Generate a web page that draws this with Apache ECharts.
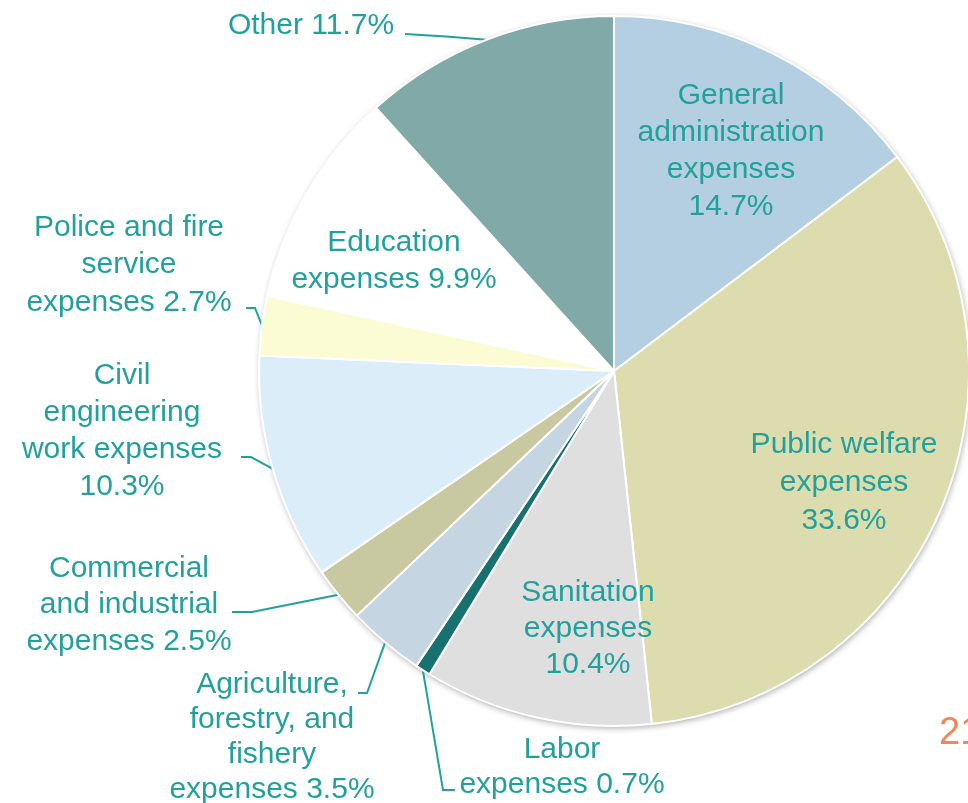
<!DOCTYPE html>
<html>
<head>
<meta charset="utf-8">
<script src="https://cdn.jsdelivr.net/npm/echarts@6/dist/echarts.min.js"></script>
<style>
html,body{margin:0;padding:0;background:#ffffff;}
#chart{width:968px;height:803px;}
</style>
</head>
<body>
<div id="chart"></div>
<script>
// ---- data ----
const categories = [
  'General administration expenses',
  'Public welfare expenses',
  'Sanitation expenses',
  'Labor expenses',
  'Agriculture, forestry, and fishery expenses',
  'Commercial and industrial expenses',
  'Civil engineering work expenses',
  'Police and fire service expenses',
  'Education expenses',
  'Other'
];
const shares = [14.7, 33.6, 10.4, 0.7, 3.5, 2.5, 10.3, 2.7, 9.9, 11.7];
const labelTexts = [
  'General\nadministration\nexpenses\n',
  'Public welfare\nexpenses\n',
  'Sanitation\nexpenses\n',
  'Labor\nexpenses ',
  'Agriculture,\nforestry, and\nfishery\nexpenses ',
  'Commercial\nand industrial\nexpenses ',
  'Civil\nengineering\nwork expenses\n',
  'Police and fire\nservice\nexpenses ',
  'Education\nexpenses ',
  'Other '
];
const pageNumber = '21';

// ---- layout & style ----
const CX = 614, CY = 371, R = 355;
const TEXT = '#22a19c';
const sliceColors = ['#b4cfe1', '#dcdcae', '#dfdfdf', '#17716e', '#c5d5e1',
                     '#c9c9a1', '#dcedfa', '#fbfbd4', '#ffffff', '#80a9a8'];
const labelCfg = [
  {pos: [731, 151], inside: true, lh: 37},
  {pos: [844, 483], inside: true, lh: 38},
  {pos: [588, 629], inside: true, lh: 36},
  {pos: [562, 767], lh: 35, bend: [[443, 790], [455, 790]]},
  {pos: [272, 737], lh: 35, bend: [[367, 693], [358, 693]]},
  {pos: [129, 605], lh: 36.5, bend: [[252, 612], [232, 612]]},
  {pos: [122, 431], lh: 37, bend: [[251, 457], [241, 457]]},
  {pos: [129, 265], lh: 37.5, bend: [[255, 308], [246, 308]]},
  {pos: [394, 261], inside: true, lh: 37},
  {pos: [311, 26], lh: 37, bend: [[446, 36.5], [405, 34]]}
];

const chart = echarts.init(document.getElementById('chart'), null, {renderer: 'canvas'});

const data = categories.map((name, i) => ({
  name: name,
  value: shares[i],
  itemStyle: {color: sliceColors[i]},
  label: {
    position: labelCfg[i].inside ? 'inside' : 'outside',
    lineHeight: labelCfg[i].lh
  },
  labelLine: {show: !labelCfg[i].inside}
}));

const option = {
  backgroundColor: '#ffffff',
  animation: false,
  graphic: [{
    type: 'text',
    left: 939,
    top: 715,
    style: {
      text: pageNumber,
      fill: '#f4855a',
      font: '38px "Liberation Sans", Arial, sans-serif'
    }
  }],
  series: [
    {
      type: 'pie',
      silent: true,
      center: [CX, CY],
      radius: R,
      z: 1,
      label: {show: false},
      labelLine: {show: false},
      itemStyle: {
        color: '#ffffff',
        shadowBlur: 6,
        shadowColor: 'rgba(0,0,0,0.35)',
        shadowOffsetX: 1,
        shadowOffsetY: 2
      },
      data: [{value: 1, name: 'bg'}]
    },
    {
      type: 'pie',
      center: [CX, CY],
      radius: R,
      z: 2,
      startAngle: 90,
      clockwise: true,
      avoidLabelOverlap: false,
      emphasis: {disabled: true},
      itemStyle: {borderColor: '#ffffff', borderWidth: 2},
      label: {
        show: true,
        color: TEXT,
        fontFamily: '"Liberation Sans", Arial, sans-serif',
        fontSize: 30,
        align: 'center',
        formatter: p => labelTexts[p.dataIndex] + p.value.toFixed(1) + '%'
      },
      labelLine: {
        show: true,
        lineStyle: {color: TEXT, width: 2}
      },
      labelLayout: function (p) {
        const cfg = labelCfg[p.dataIndex];
        const out = {x: cfg.pos[0], y: cfg.pos[1], align: 'center', verticalAlign: 'middle'};
        if (!cfg.inside && p.labelLinePoints) {
          const start = p.labelLinePoints[0];
          out.labelLinePoints = [[start[0], start[1]], cfg.bend[0], cfg.bend[1]];
        }
        return out;
      },
      data: data
    }
  ]
};
chart.setOption(option);
</script>
</body>
</html>
